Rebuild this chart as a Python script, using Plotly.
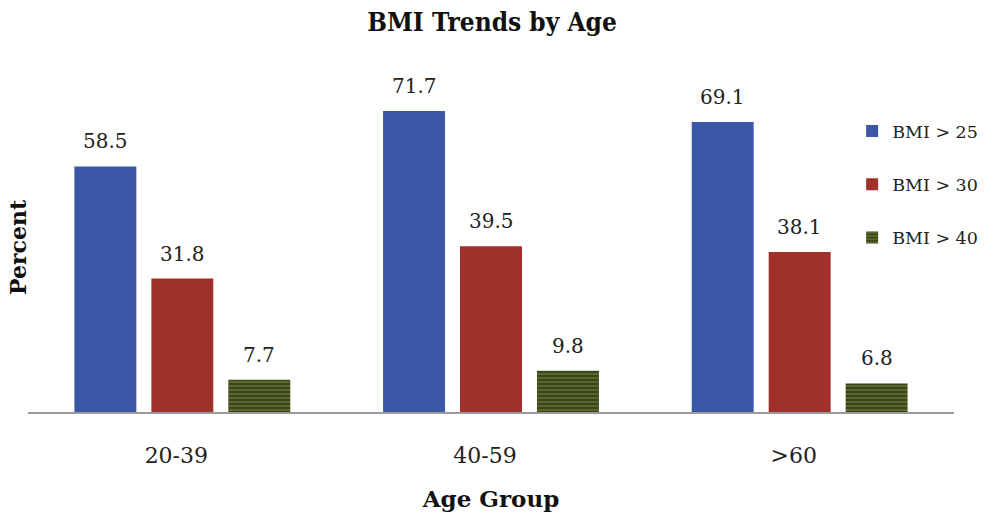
import plotly.graph_objects as go

# Share of adults above each BMI threshold, by age group
age_groups = ["20-39", "40-59", ">60"]
bmi_25 = [58.5, 71.7, 69.1]
bmi_30 = [31.8, 39.5, 38.1]
bmi_40 = [7.7, 9.8, 6.8]

series_names = ["BMI > 25", "BMI > 30", "BMI > 40"]
series_values = [bmi_25, bmi_30, bmi_40]

SERIF = "DejaVu Serif, Liberation Serif, serif"
TITLE_FONT = "DejaVu Serif Condensed, DejaVu Serif, serif"

BARGAP = 0.252
BARGROUPGAP = 0.195

styles = [
    dict(color="#3B59A7", pattern=dict(shape="|", fgcolor="#34509c", size=4, solidity=0.25)),
    dict(color="#A0302A"),
    dict(color="#3E4B1E", pattern=dict(shape="-", fgcolor="#A3B43A", bgcolor="#3A4620",
                                       size=4, solidity=0.3)),
]

fig = go.Figure()
for i, (name, vals, mk) in enumerate(zip(series_names, series_values, styles)):
    fig.add_trace(go.Bar(
        x=age_groups,
        y=vals,
        name=name,
        legendgroup=f"g{i}",
        marker=dict(line=dict(width=0), **mk),
    ))

# Value labels above each bar, centred on the bar's slot within its group
n_series = len(series_values)
slot = (1 - BARGAP) / n_series
for k, vals in enumerate(series_values):
    for c, v in enumerate(vals):
        fig.add_annotation(
            x=c + (k - (n_series - 1) / 2) * slot, y=v,
            xref="x", yref="y",
            text=f"{v:.1f}", showarrow=False,
            xanchor="center", yanchor="middle", yshift=25,
            font=dict(family=SERIF, size=20, color="#222222"),
        )

fig.add_annotation(
    text="<b>Percent</b>", textangle=-90,
    xref="paper", yref="paper",
    x=(18 - 28) / 927, y=(412 - 247) / 352,
    xanchor="center", yanchor="middle", showarrow=False,
    font=dict(family=SERIF, size=22, color="#111111"),
)

fig.update_layout(
    width=984,
    height=514,
    margin=dict(l=28, r=30, t=60, b=102, autoexpand=False),
    paper_bgcolor="white",
    plot_bgcolor="white",
    barmode="group",
    bargap=BARGAP,
    bargroupgap=BARGROUPGAP,
    title=dict(
        text="<b>BMI Trends by Age</b>",
        x=0.5, xanchor="center",
        y=1 - 22 / 514, yref="container", yanchor="middle",
        font=dict(family=TITLE_FONT, size=26, color="#111111"),
    ),
    xaxis=dict(
        showline=True, linecolor="#9a9a9a", linewidth=2,
        showgrid=False, ticks="", automargin=False,
        ticklabelstandoff=23, ticklabelshift=-6,
        tickfont=dict(family=SERIF, size=22, color="#222222"),
        title=dict(text="<b>Age Group</b>", standoff=23,
                   font=dict(family=SERIF, size=23, color="#111111")),
    ),
    yaxis=dict(
        range=[0, 83.85], automargin=False,
        showticklabels=False, showgrid=False, zeroline=False, showline=False,
    ),
    legend=dict(
        x=0.890, y=0.849, xanchor="left", yanchor="top",
        bgcolor="rgba(0,0,0,0)",
        tracegroupgap=27.5,
        font=dict(family=SERIF, size=17.5, color="#222222"),
    ),
    showlegend=True,
)

fig.write_html("out.html")
